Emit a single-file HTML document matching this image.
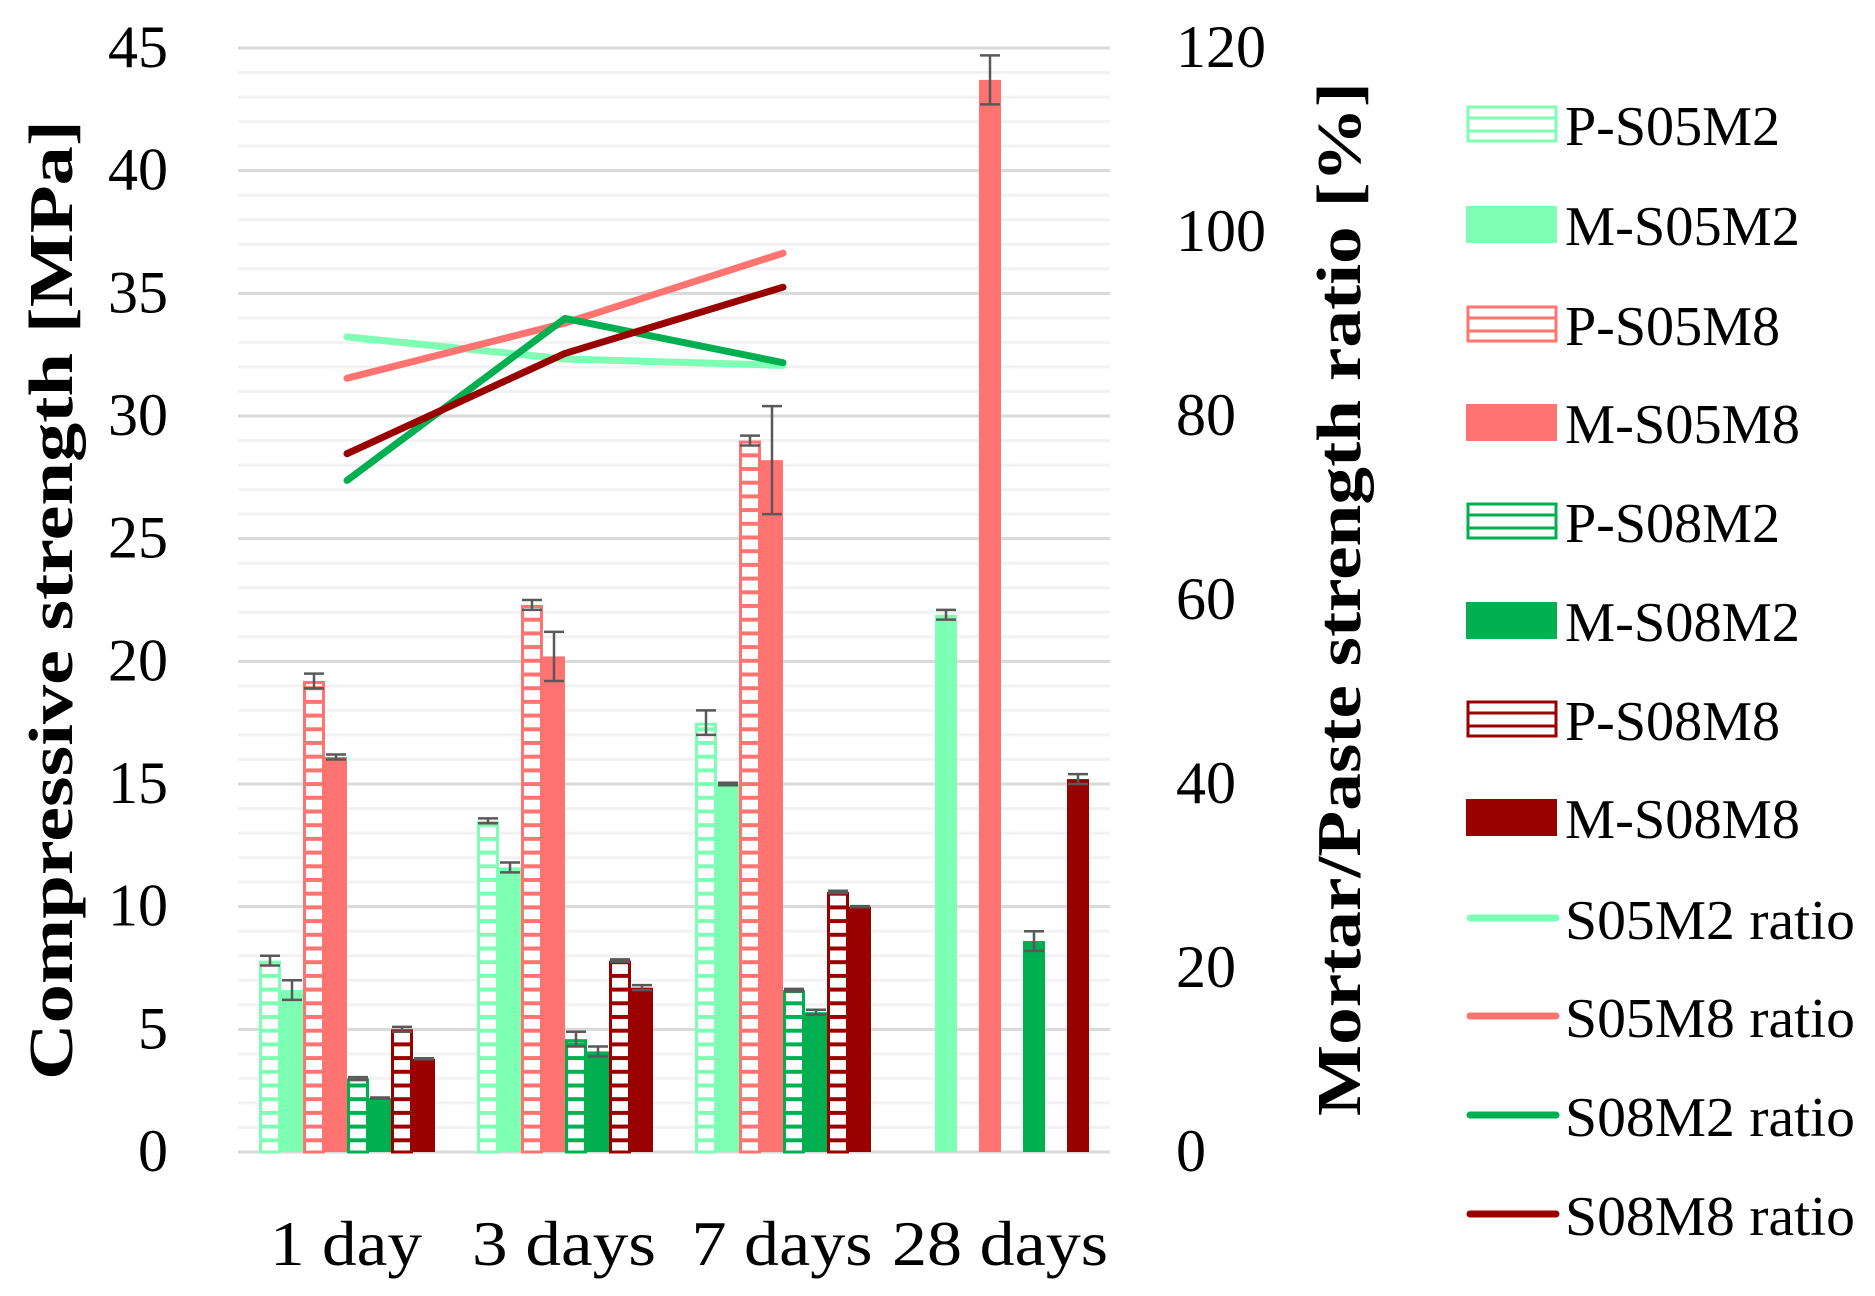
<!DOCTYPE html>
<html><head><meta charset="utf-8"><style>
html,body{margin:0;padding:0;background:#fff}
svg{display:block}
text{font-family:"Liberation Serif",serif;fill:#000}
</style></head><body>
<svg id="chart" width="1875" height="1296" viewBox="0 0 1875 1296" xmlns="http://www.w3.org/2000/svg">
<defs>
<pattern id="h0" patternUnits="userSpaceOnUse" width="30" height="13.7" y="1152"><rect width="30" height="13.7" fill="#fff"/><rect y="0" width="30" height="4" fill="#7dffb4"/></pattern>
<pattern id="h2" patternUnits="userSpaceOnUse" width="30" height="13.7" y="1152"><rect width="30" height="13.7" fill="#fff"/><rect y="0" width="30" height="4" fill="#ff7370"/></pattern>
<pattern id="h4" patternUnits="userSpaceOnUse" width="30" height="13.7" y="1152"><rect width="30" height="13.7" fill="#fff"/><rect y="0" width="30" height="4" fill="#00b050"/></pattern>
<pattern id="h6" patternUnits="userSpaceOnUse" width="30" height="13.7" y="1152"><rect width="30" height="13.7" fill="#fff"/><rect y="0" width="30" height="4" fill="#990000"/></pattern>
</defs>
<g id="grid"></g>
<g id="bars"></g>
<g id="errs"></g>
<g id="lines"></g>
<g id="axes"></g>
<g id="legend"></g>
<text transform="translate(72,600) rotate(-90)" text-anchor="middle" font-size="62" font-weight="bold" textLength="960" lengthAdjust="spacingAndGlyphs">Compressive strength [MPa]</text>
<text transform="translate(1360,599) rotate(-90)" text-anchor="middle" font-size="62" font-weight="bold" textLength="1034" lengthAdjust="spacingAndGlyphs">Mortar/Paste strength ratio [%]</text>
</svg>
<script>
const categories = ["1 day","3 days","7 days","28 days"];
const seriesNames = ["P-S05M2","M-S05M2","P-S05M8","M-S05M8","P-S08M2","M-S08M2","P-S08M8","M-S08M8"];
const pS05M2 = [7.8, 13.5, 17.5, null];
const mS05M2 = [6.6, 11.6, 15.0, 21.9];
const pS05M8 = [19.2, 22.3, 29.0, null];
const mS05M8 = [16.1, 20.2, 28.2, 43.7];
const pS08M2 = [3.0, 4.6, 6.6, null];
const mS08M2 = [2.2, 4.1, 5.7, 8.6];
const pS08M8 = [5.0, 7.8, 10.6, null];
const mS08M8 = [3.8, 6.7, 10.0, 15.2];
const errPS05M2 = [0.2, 0.1, 0.5, 0];
const errMS05M2 = [0.4, 0.2, 0.05, 0.2];
const errPS05M8 = [0.3, 0.2, 0.2, 0];
const errMS05M8 = [0.1, 1.0, 2.2, 1.0];
const errPS08M2 = [0.05, 0.3, 0.05, 0];
const errMS08M2 = [0.02, 0.2, 0.1, 0.4];
const errPS08M8 = [0.1, 0.05, 0.05, 0];
const errMS08M8 = [0.02, 0.1, 0.02, 0.2];
const ratioNames = ["S05M2 ratio","S05M8 ratio","S08M2 ratio","S08M8 ratio"];
const ratioS05M2 = [88.6, 86.2, 85.5];
const ratioS05M8 = [84.1, 90.1, 97.7];
const ratioS08M2 = [73.0, 90.6, 85.8];
const ratioS08M8 = [75.9, 86.8, 94.0];
const leftTicks = [0,5,10,15,20,25,30,35,40,45];
const rightTicks = [0,20,40,60,80,100,120];

const NS="http://www.w3.org/2000/svg";
function mk(tag, attrs, parent, txt){const e=document.createElementNS(NS,tag);for(const k in attrs)e.setAttribute(k,attrs[k]);if(txt!==undefined)e.textContent=txt;parent.appendChild(e);return e;}
const X0=238, X1=1110, Y0=1152, Y1=48;
const catW=(X1-X0)/categories.length, barW=22;
function yL(v){return Y0-(v/45)*(Y0-Y1);}
function yR(v){return Y0-(v/120)*(Y0-Y1);}
function catCenter(i){return X0+catW*(i+0.5);}
function barX(i,s){return X0+catW*i+21+s*barW;}

const grid=document.getElementById('grid');
for(let v=0;v<=45;v++){
  const l=mk('line',{x1:X0,x2:X1,y1:yL(v),y2:yL(v),stroke:v%5===0?'#d9d9d9':'#f2f2f2','stroke-width':3},grid);
  
  
}
const colors=["#7dffb4","#7dffb4","#ff7370","#ff7370","#00b050","#00b050","#990000","#990000"];
const values=[pS05M2,mS05M2,pS05M8,mS05M8,pS08M2,mS08M2,pS08M8,mS08M8];
const errs=[errPS05M2,errMS05M2,errPS05M8,errMS05M8,errPS08M2,errMS08M2,errPS08M8,errMS08M8];
const bars=document.getElementById('bars'), eg=document.getElementById('errs');
for(let s=0;s<8;s++){
  for(let i=0;i<categories.length;i++){
    const v=values[s][i]; if(v===null) continue;
    const x=barX(i,s), y=yL(v), h=Y0-y;
    let r;
    if(s%2===0){
      r=mk('rect',{x:x+1.5,y:y+1.5,width:barW-3,height:h-1.5,fill:'url(#h'+s+')',stroke:colors[s],'stroke-width':3},bars);
    } else {
      r=mk('rect',{x:x,y:y,width:barW,height:h,fill:colors[s]},bars);
    }
    
    
    const e=errs[s][i]; if(!e) continue;
    const cx=x+barW/2, ya=yL(v+e), yb=yL(v-e);
    const g=mk('g',{stroke:'#595959','stroke-width':2.5},eg);
    
    
    mk('line',{x1:cx,x2:cx,y1:ya,y2:yb},g);
    mk('line',{x1:cx-10,x2:cx+10,y1:ya,y2:ya},g);
    mk('line',{x1:cx-10,x2:cx+10,y1:yb,y2:yb},g);
  }
}
const rColors=["#7dffb4","#ff7370","#00b050","#990000"];
const ratios=[ratioS05M2,ratioS05M8,ratioS08M2,ratioS08M8];
const lg=document.getElementById('lines');
for(let r=0;r<4;r++){
  const pts=ratios[r].map((v,i)=>catCenter(i)+','+yR(v)).join(' ');
  const p=mk('polyline',{points:pts,fill:'none',stroke:rColors[r],'stroke-width':7,'stroke-linecap':'round','stroke-linejoin':'round'},lg);
  
  
}
const ax=document.getElementById('axes');
leftTicks.forEach(v=>{const t=mk('text',{x:168,y:yL(v)+19,'text-anchor':'end','font-size':60},ax,String(v));
  
  });
rightTicks.forEach(v=>{const t=mk('text',{x:1176,y:yR(v)+19,'font-size':60},ax,String(v));
  
  });
const xLabelLen=[152,184,181,216];
categories.forEach((c,i)=>{const t=mk('text',{x:catCenter(i)-1,y:1265,'text-anchor':'middle','font-size':64,textLength:xLabelLen[i],lengthAdjust:'spacingAndGlyphs'},ax,c);
  
  });

const leg=document.getElementById('legend');
const rowsY=[124,224,324,422,521,620,719,817,918,1016,1115,1214];
for(let k=0;k<12;k++){
  const g=mk('g',{},leg);
  
  
  const cy=rowsY[k];
  let name, len;
  if(k<8){
    name=seriesNames[k]; len = (k%2===0)?215:235;
    if(k%2===0){
      mk('rect',{x:1468,y:cy-17,width:88,height:34,fill:'#fff',stroke:colors[k],'stroke-width':3},g);
      mk('line',{x1:1468,x2:1556,y1:cy-6,y2:cy-6,stroke:colors[k],'stroke-width':3},g);
      mk('line',{x1:1468,x2:1556,y1:cy+7,y2:cy+7,stroke:colors[k],'stroke-width':3},g);
    } else mk('rect',{x:1466,y:cy-18,width:91,height:37,fill:colors[k]},g);
  } else {
    name=ratioNames[k-8]; len=290;
    mk('line',{x1:1470,x2:1556,y1:cy,y2:cy,stroke:rColors[k-8],'stroke-width':7,'stroke-linecap':'round'},g);
  }
  mk('text',{x:1565,y:cy+21,'font-size':56,textLength:len,lengthAdjust:'spacingAndGlyphs'},g,name);
}
</script>
</body></html>
